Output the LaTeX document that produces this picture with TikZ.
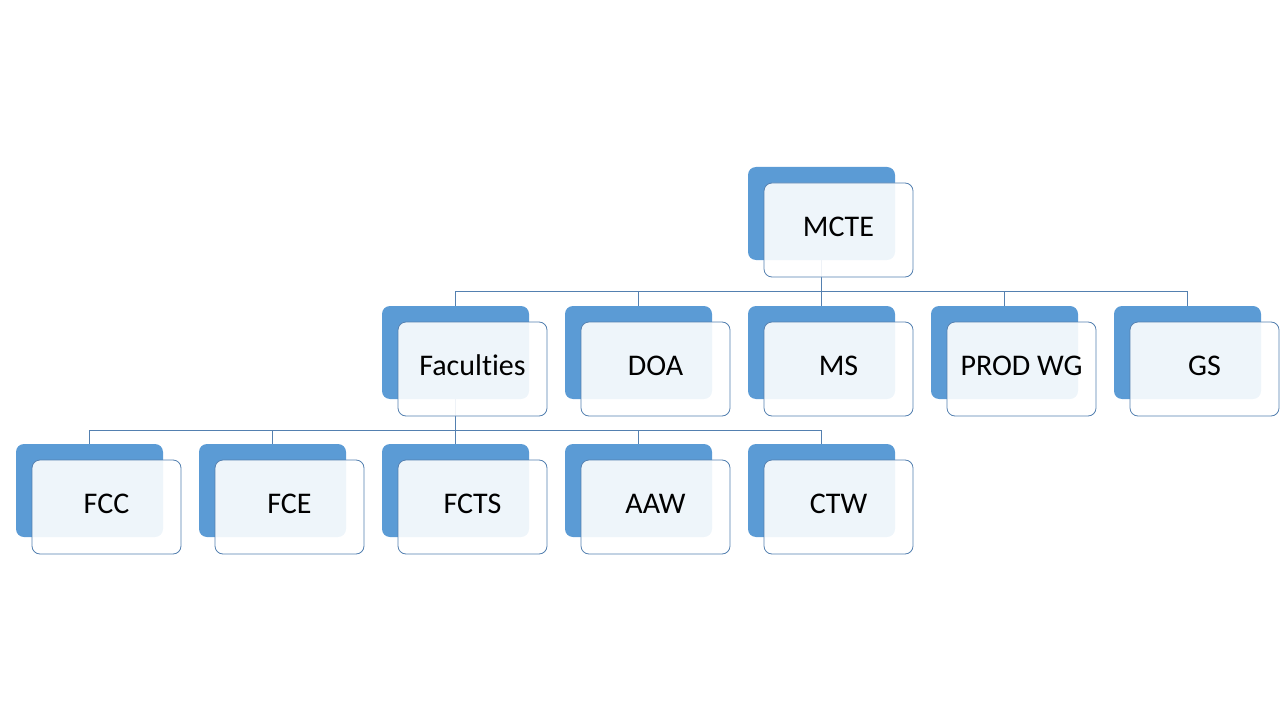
\documentclass[tikz,border=0pt]{standalone}
\usepackage{fontspec}
\setmainfont{Carlito}[Ligatures={NoCommon}]
\definecolor{boxblue}{RGB}{91,155,213}
\definecolor{linkblue}{RGB}{84,128,176}
\tikzset{
  backbox/.style={fill=boxblue, rounded corners=6pt, minimum width=110.25pt, minimum height=69.75pt, inner sep=0pt},
  frontbox/.style={draw=linkblue, line width=0.6pt, fill=white, fill opacity=0.9, text opacity=1, rounded corners=6pt,
    minimum width=111.75pt, minimum height=70.5pt, inner sep=0pt, text height=15pt, text depth=5.5pt,
    font=\fontsize{22.5}{27}\selectfont},
  link/.style={draw=linkblue, line width=0.6pt}
}
\begin{document}
\begin{tikzpicture}[x=0.75pt, y=-0.75pt]
  \useasboundingbox (0,0) rectangle (1280,720);

  % back plates
  \node[backbox] (mcte-b) at (821.5,213.5) {};
  \node[backbox] (fac-b)  at (455.5,352.5) {};
  \node[backbox] (doa-b)  at (638.5,352.5) {};
  \node[backbox] (ms-b)   at (821.5,352.5) {};
  \node[backbox] (prod-b) at (1004.5,352.5) {};
  \node[backbox] (gs-b)   at (1187.5,352.5) {};
  \node[backbox] (fcc-b)  at (89.5,490.5) {};
  \node[backbox] (fce-b)  at (272.5,490.5) {};
  \node[backbox] (fcts-b) at (455.5,490.5) {};
  \node[backbox] (aaw-b)  at (638.5,490.5) {};
  \node[backbox] (ctw-b)  at (821.5,490.5) {};

  % connectors
  \foreach \c in {fac,doa,ms,prod,gs}
    \draw[link] (mcte-b.south) -- ++(0,31) -| (\c-b.north);
  \foreach \c in {fcc,fce,fcts,aaw,ctw}
    \draw[link] (fac-b.south) -- ++(0,31) -| (\c-b.north);

  % front cards
  \node[frontbox] (mcte) at ([shift={(17,16.5)}]mcte-b.center) {MCTE};
  \node[frontbox] (fac)  at ([shift={(17,16.5)}]fac-b.center)  {Faculties};
  \node[frontbox] (doa)  at ([shift={(17,16.5)}]doa-b.center)  {DOA};
  \node[frontbox] (ms)   at ([shift={(17,16.5)}]ms-b.center)   {MS};
  \node[frontbox] (prod) at ([shift={(17,16.5)}]prod-b.center) {PROD WG};
  \node[frontbox] (gs)   at ([shift={(17,16.5)}]gs-b.center)   {GS};
  \node[frontbox] (fcc)  at ([shift={(17,16.5)}]fcc-b.center)  {FCC};
  \node[frontbox] (fce)  at ([shift={(17,16.5)}]fce-b.center)  {FCE};
  \node[frontbox] (fcts) at ([shift={(17,16.5)}]fcts-b.center) {FCTS};
  \node[frontbox] (aaw)  at ([shift={(17,16.5)}]aaw-b.center)  {AAW};
  \node[frontbox] (ctw)  at ([shift={(17,16.5)}]ctw-b.center)  {CTW};
\end{tikzpicture}
\end{document}
